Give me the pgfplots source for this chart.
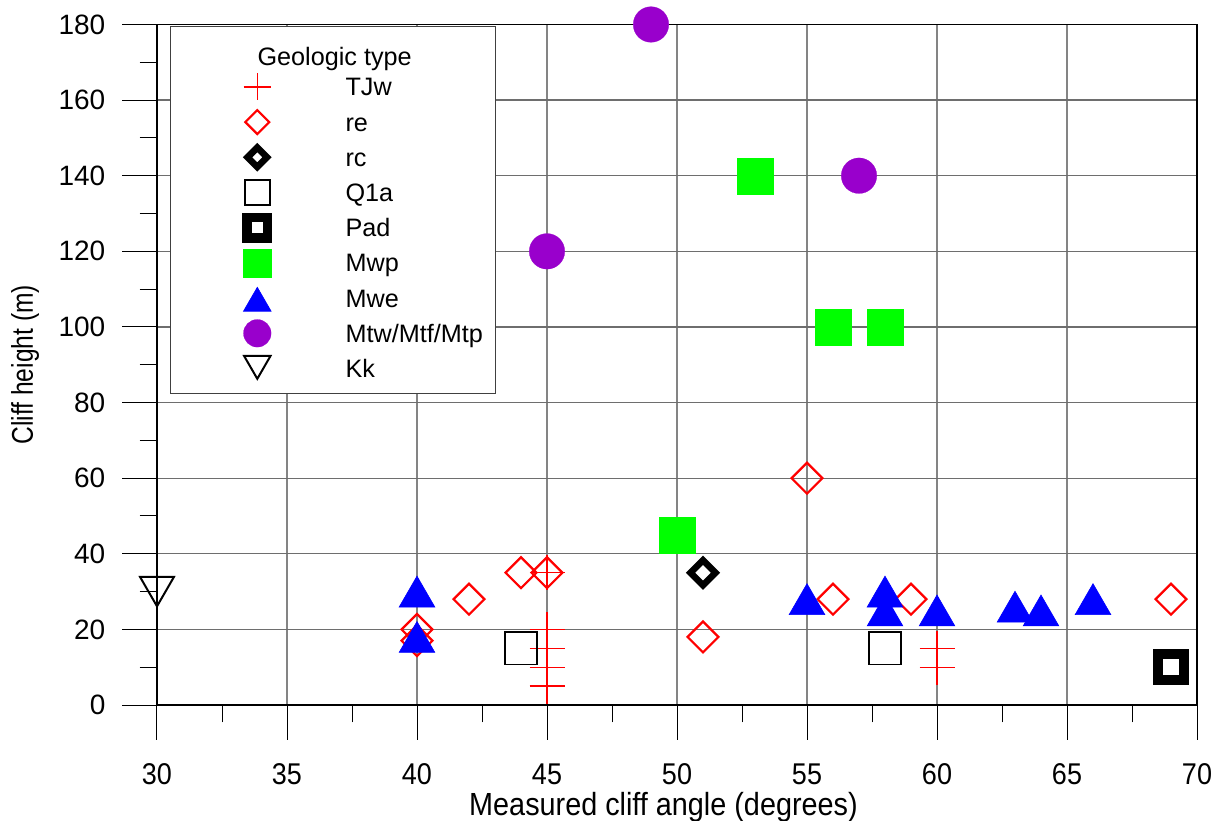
\documentclass[border=0pt]{standalone}
\usepackage{fontspec}
\setmainfont{Liberation Sans}
\newfontfamily\condA[FakeStretch=0.9]{Liberation Sans}
\newfontfamily\condB[FakeStretch=0.82]{Liberation Sans}
\usepackage{pgfplots}
\pgfplotsset{compat=1.18}

\definecolor{mwpgreen}{HTML}{00FF00}
\definecolor{mweblue}{HTML}{0000FF}
\definecolor{mtwpurple}{HTML}{9900CC}
\definecolor{gridgray}{HTML}{6E6E6E}

\begin{document}
\begin{tikzpicture}
\begin{axis}[
  name=ax,
  scale only axis,
  width=520pt, height=340.25pt,
  xmin=30, xmax=70, ymin=0, ymax=180,
  xtick={30,35,...,70}, ytick={0,20,...,180},
  minor x tick num=1, minor y tick num=1,
  tick pos=left, tick align=outside,
  major tick length=17.3pt, minor tick length=8.7pt,
  tick style={black, line width=0.5pt},
  xmajorgrids, ymajorgrids,
  x grid style={gridgray!85, line width=0.7pt},
  y grid style={gridgray, line width=0.65pt},
  axis line style={black, line width=0.6pt},
  clip=false,
  /pgf/number format/assume math mode=true,
  yticklabel style={font=\fontsize{14}{16}\selectfont, xshift=-5pt},
  xticklabel style={font=\condA\fontsize{15}{17}\selectfont, inner sep=0pt, yshift=-12pt},
  xlabel={Measured cliff angle (degrees)},
  ylabel={Cliff height (m)},
  every axis x label/.style={at={(axis description cs:0.487,-0.1505)}, anchor=center, inner sep=0pt, font=\condA\fontsize{16}{19}\selectfont},
  every axis y label/.style={at={(axis description cs:-0.1269,0.5)}, rotate=90, anchor=center, inner sep=0pt, font=\condB\fontsize{15}{18}\selectfont},
  legend style={
    at={(axis description cs:0,1)}, anchor=north west, xshift=6.5pt, yshift=-0.75pt,
    draw=black!75, line width=0.6pt, fill=white,
    inner xsep=0pt, inner ysep=3.75pt,
    row sep=0pt, column sep=0pt,
    font=\fontsize{12.6}{15}\selectfont,
    nodes={inner sep=0pt, text height=13.3pt, text depth=4.3pt, anchor=base west},
  },
  legend image code/.code={
    \path[draw=none, fill=none] (0pt,-4.3pt) rectangle (87.5pt,13.3pt);
    \draw[#1, every mark/.append style={scale=0.776}] plot coordinates {(43.35pt,4.5pt)};
  },
]

\addlegendimage{empty legend}
\addlegendentry{\hspace*{-44pt}\raisebox{-2.5pt}{Geologic type}}

% TJw
\addplot[only marks, color=red, mark=+, mark size=8.75pt, line width=0.65pt]
  coordinates {(45,35) (45,20) (45,15) (45,10) (45,5) (60,15) (60,10)};
\addlegendentry{TJw}

% re
\addplot[only marks, color=red, mark=square, mark size=5.46pt, line width=1.1pt,
  mark options={rotate=45}]
  coordinates {(40,20) (40,17) (42,28) (44,35) (45,35) (51,18) (55,60) (56,28) (59,28) (69,28)};
\addlegendentry{re}

% rc
\addplot[only marks, color=black, mark=square, mark size=4.42pt, line width=3.3pt,
  mark options={rotate=45}]
  coordinates {(51,35)};
\addlegendentry{rc}

% Q1a
\addplot[only marks, color=black, mark=square, mark size=8.1pt, line width=0.85pt]
  coordinates {(44,15) (58,15)};
\addlegendentry{Q1a}

% Pad
\addplot[only marks, color=black, mark=square*, mark size=6.5pt, line width=4.85pt,
  mark options={fill=white}]
  coordinates {(69,10)};
\addlegendentry{Pad}

% Mwp
\addplot[only marks, color=mwpgreen, mark=square*, mark size=9pt, line width=0.1pt]
  coordinates {(53,140) (56,100) (58,100) (50,45)};
\addlegendentry{Mwp}

% Mwe
\addplot[only marks, color=mweblue, mark=triangle*, mark size=10.3pt, line width=0.3pt,
  mark options={yshift=-2.575pt}]
  coordinates {(40,30) (40,18) (55,28) (58,30) (58,25) (60,25) (63,26) (64,25) (66,28)};
\addlegendentry{Mwe}

% Mtw/Mtf/Mtp
\addplot[only marks, color=mtwpurple, mark=*, mark size=8.9pt, line width=0.1pt]
  coordinates {(49,180) (45,120) (57,140)};
\addlegendentry{Mtw/Mtf/Mtp\hspace*{6.5pt}}

% Kk
\addplot[only marks, color=black, mark=triangle, mark size=9.8pt, line width=1pt,
  mark options={yshift=2.45pt, rotate=180}]
  coordinates {(30,30)};
\addlegendentry{Kk}

\end{axis}
\pgfresetboundingbox
\path[use as bounding box] ([shift={(-78.5pt,-57.5pt)}]ax.south west)
  rectangle ([shift={(13pt,12.25pt)}]ax.north east);
\end{tikzpicture}
\end{document}
